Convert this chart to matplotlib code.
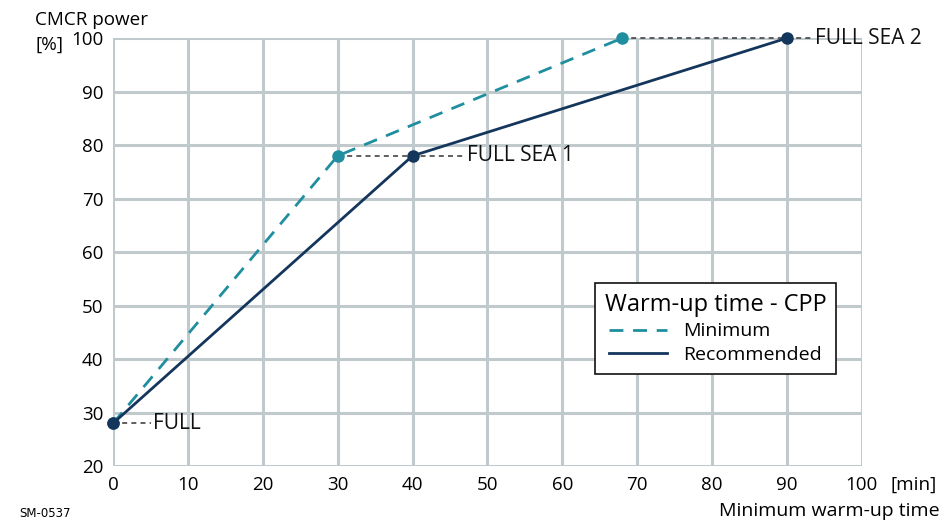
import matplotlib.pyplot as plt
import numpy as np

plt.rcParams['font.family'] = ['Open Sans', 'DejaVu Sans']

# warm-up curves
min_time = [0, 30, 68]
min_power = [28, 78, 100]
rec_time = [0, 40, 90]
rec_power = [28, 78, 100]

# operating points and their labels
point_labels = ['FULL', 'FULL SEA 1', 'FULL SEA 2']
label_end_x = [5, 47, 93.5]

x_ticks = list(range(0, 101, 10))
y_ticks = list(range(20, 101, 10))

teal = '#1f8e9e'
navy = '#14365c'
grid_col = '#c0c9cc'

fig = plt.figure(figsize=(9.51, 5.23), dpi=100)
ax = fig.add_axes([0.119, 0.109, 0.787, 0.818])

ax.set_xlim(0, 100)
ax.set_ylim(20, 100)
ax.set_xticks(x_ticks)
ax.set_yticks(y_ticks)
ax.grid(True, color=grid_col, linewidth=2.2)
ax.set_axisbelow(True)
for s in ax.spines.values():
    s.set_visible(False)
ax.tick_params(length=0, labelsize=13.5, pad=7)
ax.set_xticklabels([str(t) for t in x_ticks])
ax.set_yticklabels([str(t) for t in y_ticks])

# dotted connectors to labels
for i, lab in enumerate(point_labels):
    y = rec_power[i]
    x0 = min(min_time[i], rec_time[i])
    ax.plot([x0, label_end_x[i]], [y, y], color='#444444', linestyle=(0, (3, 2.5)),
            linewidth=1.2, zorder=2, clip_on=False)
    ax.text(label_end_x[i] + 0.3, y, lab, fontsize=15, va='center', ha='left',
            color='#111111')

ax.plot(min_time, min_power, color=teal, linestyle=(0, (5, 3.5)), linewidth=2,
        marker='o', markersize=8, label='Minimum', zorder=3, clip_on=False)
ax.plot(rec_time, rec_power, color=navy, linewidth=2,
        marker='o', markersize=8, label='Recommended', zorder=4, clip_on=False)

leg = ax.legend(title='Warm-up time - CPP', loc='upper left',
                bbox_to_anchor=(0.6435, 0.428), borderaxespad=0,
                fontsize=14, title_fontsize=17,
                frameon=True, fancybox=False, edgecolor='#111111', framealpha=1,
                handlelength=3.0, handletextpad=0.8, borderpad=0.5, labelspacing=0.3)
leg.get_frame().set_linewidth(1.2)
for line in leg.get_lines():
    line.set_marker('')

fig.text(0.037, 0.962, 'CMCR power', fontsize=13.6, ha='left', va='center')
fig.text(0.037, 0.915, '[%]', fontsize=13.6, ha='left', va='center')
fig.text(0.936, 0.073, '[min]', fontsize=13.6, ha='left', va='center')
fig.text(0.988, 0.022, 'Minimum warm-up time', fontsize=14, ha='right', va='center')
fig.text(0.02, 0.019, 'SM-0537', fontsize=8.5, ha='left', va='center',
         family=['DejaVu Sans'])

fig.savefig('out.png', dpi=100)
